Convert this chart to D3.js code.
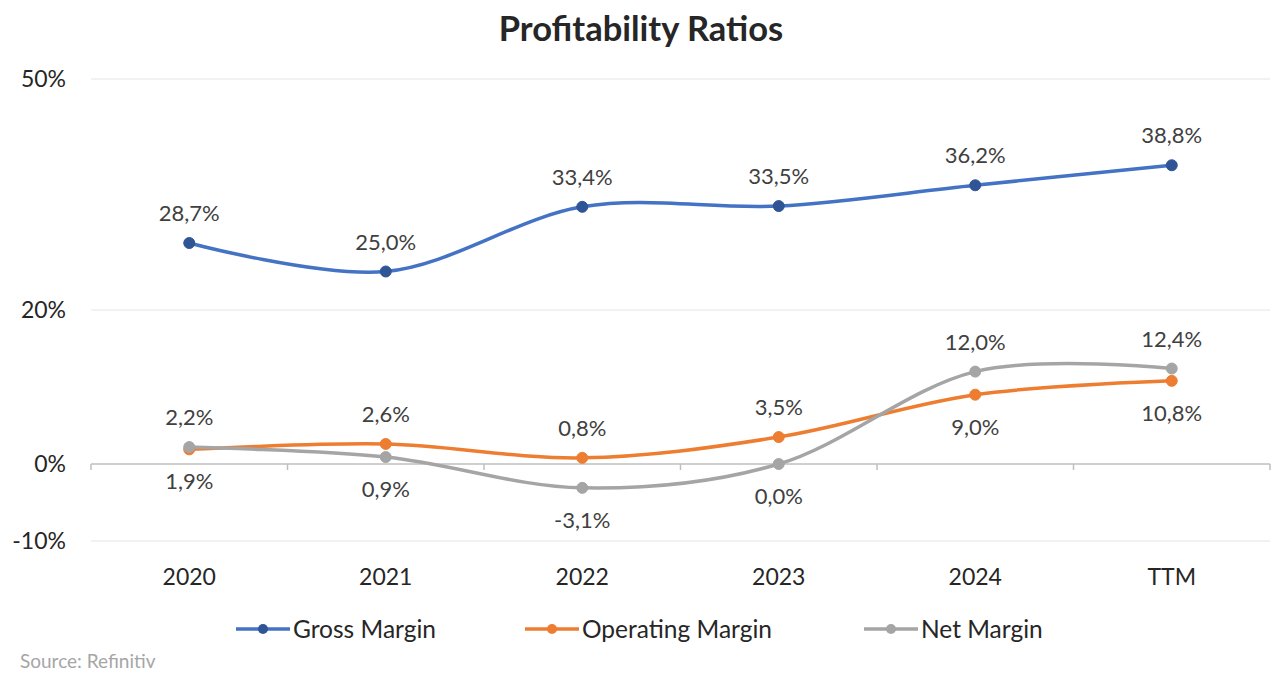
<!DOCTYPE html>
<html>
<head>
<meta charset="utf-8">
<script src="https://cdn.jsdelivr.net/npm/d3@7"></script>
<style>
  body { margin: 0; background: #fff; }
  svg { display: block; font-family: Lato, "Open Sans", sans-serif; }
</style>
</head>
<body>
<div id="chart"></div>
<script>
// 데이터
const categories = ['2020', '2021', '2022', '2023', '2024', 'TTM'];
const grossMargin = [28.7, 25.0, 33.4, 33.5, 36.2, 38.8];
const operatingMargin = [1.9, 2.6, 0.8, 3.5, 9.0, 10.8];
const netMargin = [2.2, 0.9, -3.1, 0.0, 12.0, 12.4];
const yTicks = [-10, 0, 20, 50];
// label position: 1 = above, -1 = below
const operatingPos = [-1, 1, 1, 1, -1, -1];
const netPos = [1, -1, -1, -1, 1, 1];

const series = [
  { name: 'Gross Margin', values: grossMargin, pos: grossMargin.map(() => 1), line: '#4472C4', dot: '#2F5597' },
  { name: 'Operating Margin', values: operatingMargin, pos: operatingPos, line: '#ED7D31', dot: '#ED7D31' },
  { name: 'Net Margin', values: netMargin, pos: netPos, line: '#A5A5A5', dot: '#A5A5A5' },
];

const W = 1280, H = 691;
const svg = d3.select('#chart').append('svg').attr('width', W).attr('height', H);

const x = d3.scaleBand().domain(categories).range([91, 1270]);
const y = d3.scaleLinear().domain([-10, 50]).range([541, 79]);
const fmt = v => v.toFixed(1).replace('.', ',') + '%';

// 제목
svg.append('text').attr('x', 641).attr('y', 41).attr('text-anchor', 'middle')
  .attr('font-size', 34.5).attr('font-weight', 700).attr('fill', '#262626')
  .text('Profitability Ratios');

// 격자
svg.append('g').selectAll('line').data(yTicks.filter(d => d !== 0)).join('line')
  .attr('x1', 91).attr('x2', 1270)
  .attr('y1', d => y(d)).attr('y2', d => y(d))
  .attr('stroke', '#e4e4e4').attr('stroke-width', 1);

svg.append('g').selectAll('text').data(yTicks).join('text')
  .attr('x', 66).attr('y', d => y(d) + 8).attr('text-anchor', 'end')
  .attr('font-size', 23).attr('fill', '#262626')
  .text(d => d + '%');

// x축 (0% 선)
const xAxis = svg.append('g').attr('transform', `translate(0,${y(0)})`);
xAxis.append('line').attr('x1', 91).attr('x2', 1270).attr('stroke', '#bfbfbf').attr('stroke-width', 1.5);
const bounds = categories.map(c => x(c)).concat([x.range()[1]]);
xAxis.selectAll('line.tick').data(bounds).join('line').attr('class', 'tick')
  .attr('x1', d => d).attr('x2', d => d).attr('y1', 0).attr('y2', 6)
  .attr('stroke', '#bfbfbf').attr('stroke-width', 1.5);

svg.append('g').selectAll('text').data(categories).join('text')
  .attr('x', d => x(d) + x.bandwidth() / 2).attr('y', 585).attr('text-anchor', 'middle')
  .attr('font-size', 23).attr('fill', '#262626').text(d => d);

// 선
const cx = (d, i) => x(categories[i]) + x.bandwidth() / 2;
const line = d3.line().x(cx).y(d => y(d)).curve(d3.curveCatmullRom.alpha(0));

const gS = svg.append('g');
series.forEach(s => {
  gS.append('path').datum(s.values).attr('d', line)
    .attr('fill', 'none').attr('stroke', s.line).attr('stroke-width', 3.5);
});
series.forEach(s => {
  gS.append('g').selectAll('circle').data(s.values).join('circle')
    .attr('cx', cx).attr('cy', d => y(d)).attr('r', 5.5)
    .attr('fill', s.dot).attr('stroke', s.dot).attr('stroke-width', 1);
});
series.forEach(s => {
  gS.append('g').selectAll('text').data(s.values).join('text')
    .attr('x', cx)
    .attr('y', (d, i) => s.pos[i] > 0 ? y(d) - 22 : y(d) + 40)
    .attr('text-anchor', 'middle').attr('font-size', 22).attr('fill', '#404040')
    .text(fmt);
});

// 범례
const legendX = [236, 525, 864];
const lg = svg.append('g');
series.forEach((s, i) => {
  const g = lg.append('g').attr('transform', `translate(${legendX[i]},629)`);
  g.append('line').attr('x1', 0).attr('x2', 54).attr('stroke', s.line).attr('stroke-width', 3.5);
  g.append('circle').attr('cx', 27).attr('r', 5).attr('fill', s.dot);
  g.append('text').attr('x', 57).attr('y', 9).attr('font-size', 24.5).attr('fill', '#262626').text(s.name);
});

svg.append('text').attr('x', 20).attr('y', 668).attr('font-size', 19).attr('fill', '#a6a6a6')
  .text('Source: Refinitiv');
</script>
</body>
</html>
